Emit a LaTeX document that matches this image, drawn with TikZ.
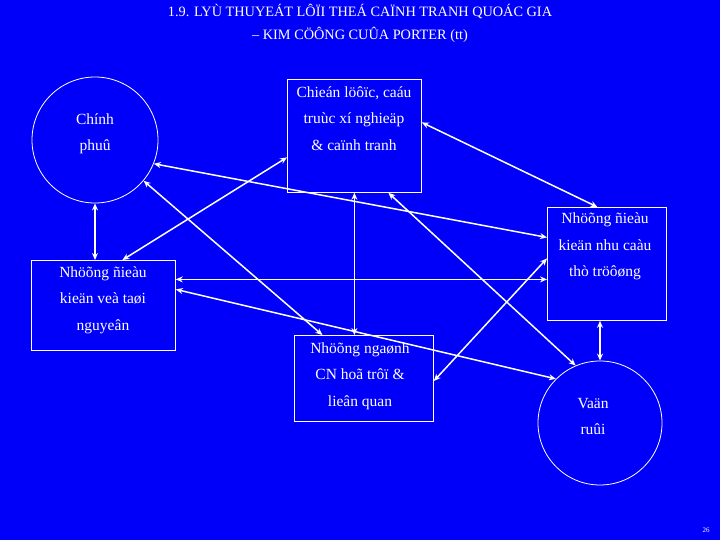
\documentclass[tikz,border=0pt]{standalone}
\usepackage{fontspec}
\setmainfont{Liberation Serif}
\usetikzlibrary{arrows.meta,calc}
\definecolor{bg}{RGB}{0,0,250}
\begin{document}
\begin{tikzpicture}[x=1pt,y=-1pt,
  box/.style={draw=white,line width=0.8pt,inner sep=0pt,anchor=north west},
  ring/.style={draw=white,line width=0.8pt,circle,inner sep=0pt},
  txt/.style={text=white,align=center,font=\fontsize{15.5}{26.5}\selectfont},
  ttl/.style={text=white,align=center,font=\fontsize{14.3}{23}\selectfont},
  arr/.style={white,line width=1.5pt,{Stealth[length=7pt,width=6pt]}-{Stealth[length=7pt,width=6pt]}}]
\fill[bg] (0,0) rectangle (720,540);
\useasboundingbox (0,0) rectangle (720,540);
% title
\node[ttl] (title) at (360,23.5) {1.9. LYÙ THUYEÁT LÔÏI THEÁ CAÏNH TRANH QUOÁC GIA\\– KIM CÖÔNG CUÛA PORTER (tt)};
% shapes
\node[ring,minimum size=126pt] (gov) at (95,140) {};
\node[box,minimum width=134pt,minimum height=113pt] (top) at (287,79) {};
\node[box,minimum width=119pt,minimum height=113pt] (right) at (547,207) {};
\node[box,minimum width=144pt,minimum height=90pt] (left) at (31,260) {};
\node[box,minimum width=139pt,minimum height=86pt] (bot) at (294,335) {};
\node[ring,minimum size=124pt] (vr) at (600,423) {};
% texts
\node[txt] (govt) at (95,134) {Chính\\phuû};
\node[txt] (topt) at (354,118.5) {Chieán löôïc, caáu\\truùc xí nghieäp\\\& caïnh tranh};
\node[txt] (rightt) at (605,246.5) {Nhöõng ñieàu\\kieän nhu caàu\\thò tröôøng};
\node[txt] (leftt) at (103,300) {Nhöõng ñieàu\\kieän veà taøi\\nguyeân};
\node[txt] (bott) at (360,376) {Nhöõng ngaønh\\CN hoã trôï \&\\lieân quan};
\node[txt] (vrt) at (593,416.5) {Vaän\\ruûi};
\node[text=white,font=\fontsize{7}{8}\selectfont] (pg) at (706,530) {26};
% connector end points
\coordinate (h1) at ([yshift=26pt]left.east);
\coordinate (e1) at ([yshift=-21.5pt]top.west);
\coordinate (e2) at ([xshift=19pt]left.north);
% connectors
\draw[arr] (gov.south) -- (gov.south |- left.north);
\draw[arr] (gov.-22) -- ([yshift=26.5pt]right.west);
\draw[arr] (gov.-40) -- ([xshift=-41.5pt]bot.north);
\draw[arr] (e1) -- (e2);
\draw[arr] ([yshift=13.5pt]top.east) -- ([xshift=-9.5pt]right.north);
\draw[arr] (top.south) -- (top.south |- bot.north);
\draw[arr] ([xshift=34pt]top.south) -- (vr.113);
\draw[arr] (h1) -- (h1 -| right.west);
\draw[arr] ([yshift=16pt]left.east) -- (vr.135);
\draw[arr] ([yshift=-46pt]bot.north east) -- ([yshift=5.5pt]right.west);
\draw[arr] (vr.north |- right.south) -- (vr.north);
\end{tikzpicture}
\end{document}
